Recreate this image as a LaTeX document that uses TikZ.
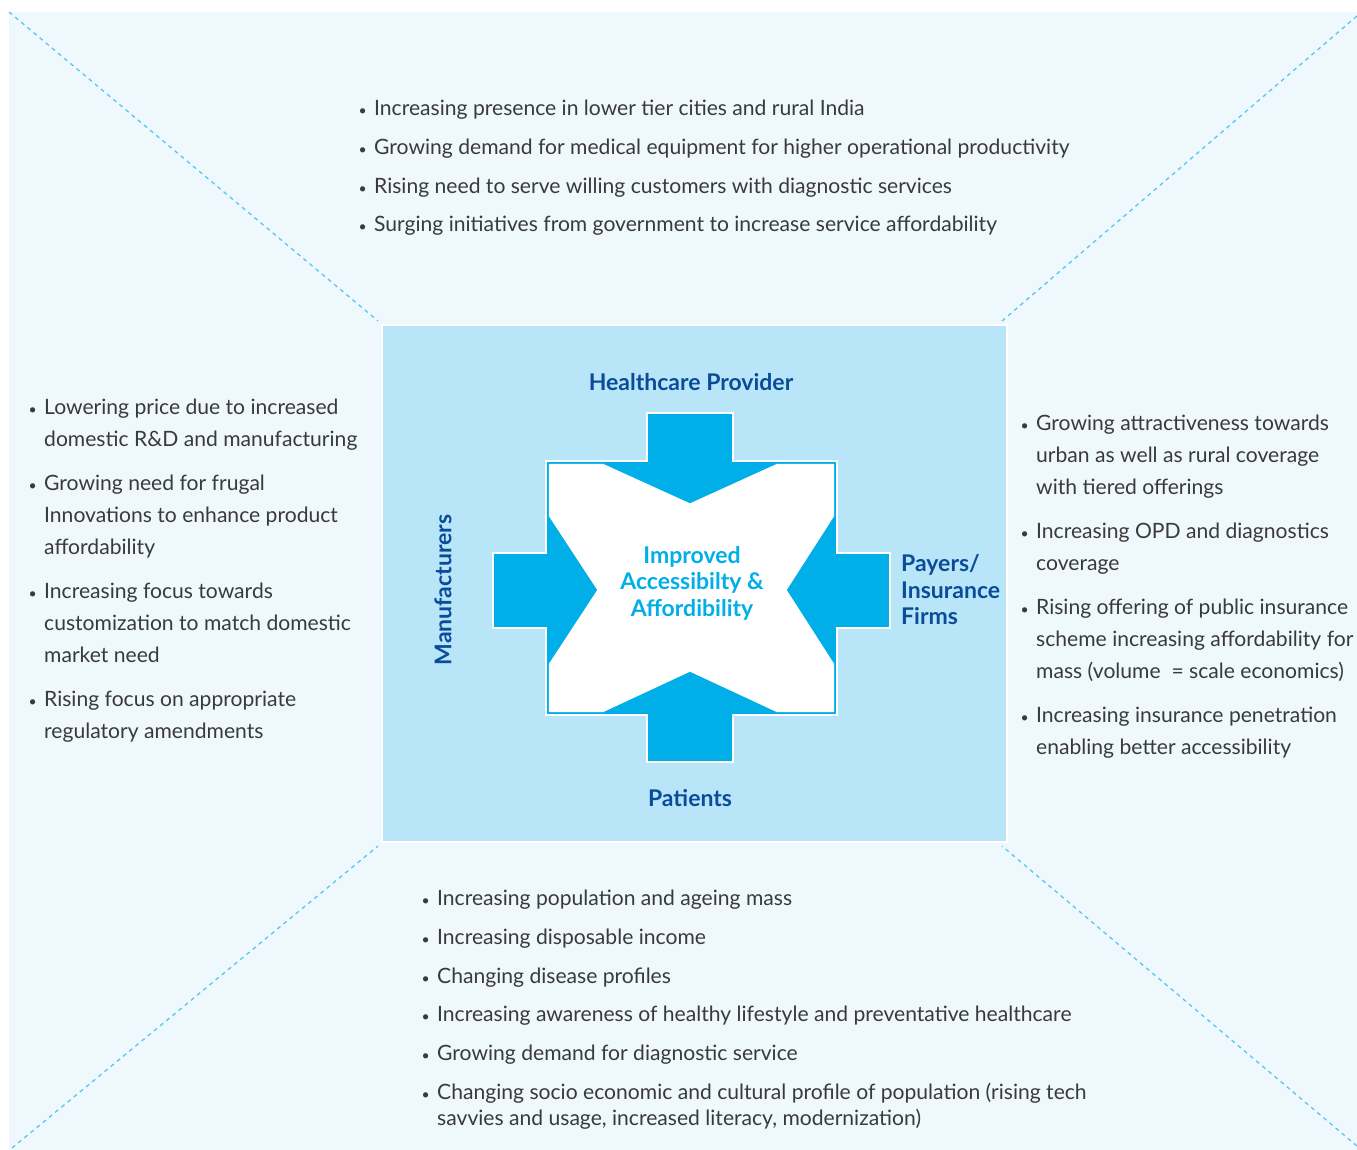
\documentclass[tikz,border=0pt]{standalone}
\usepackage{fontspec}
\setmainfont{Lato}
\begin{document}
\definecolor{panelbg}{HTML}{EEF8FD}
\definecolor{boxbg}{HTML}{B8E5F8}
\definecolor{arrowblue}{HTML}{00AEE8}
\definecolor{dashblue}{HTML}{5CC6EE}
\definecolor{labelblue}{HTML}{0B4C9A}
\definecolor{bodytext}{HTML}{3A3A3A}
\begin{tikzpicture}[x=1pt,y=-1pt,
  txt/.style={anchor=base west,inner sep=0pt,text=bodytext,font=\fontsize{21.1}{24}\selectfont},
  bul/.style={anchor=base east,inner sep=0pt,text=bodytext,font=\fontsize{14}{16}\selectfont},
  lbl/.style={inner sep=0pt,text=labelblue,font=\fontsize{23}{26.5}\selectfont\bfseries},
  hub/.style={inner sep=0pt,text=arrowblue,align=center,font=\fontsize{23}{26.5}\selectfont\bfseries},
  guide/.style={draw=dashblue,line width=1.3pt,dash pattern=on 4pt off 4pt}]
\newcommand\bl[1]{\node[bul] at ([xshift=-7pt]#1.base west) {•};}
\useasboundingbox (0,0) rectangle (1357,1150);
% background panel
\fill[panelbg] (9,12) rectangle (1357,1150);
% diagonal guides from panel corners to the central box
\coordinate (pTL) at (9,12);
\coordinate (pTR) at (1357,16);
\coordinate (pBL) at (12,1148);
\coordinate (pBR) at (1357,1146);
\node[draw=white,line width=2pt,fill=boxbg,minimum width=625pt,minimum height=517pt,inner sep=0pt,anchor=north west] (box) at (381,324) {};
\draw[guide] (pTL) -- ([shift={(-3,-3)}]box.north west);
\draw[guide] (pTR) -- ([shift={(-6,-3)}]box.north east);
\draw[guide] (pBL) -- ([shift={(-3,3)}]box.south west);
\draw[guide] (pBR) -- ([shift={(-6,3)}]box.south east);
% cross of four arrows
\fill[arrowblue,draw=white,line width=1.6pt]
 (647,413) -- (733,413) -- (733,461) -- (837,461) -- (837,553) -- (890,553) -- (890,628)
 -- (837,628) -- (837,715) -- (733,715) -- (733,762) -- (647,762) -- (647,715) -- (546,715)
 -- (546,628) -- (493,628) -- (493,553) -- (546,553) -- (546,461) -- (647,461) -- cycle;
% white star between the arrowheads
\fill[white,draw=white,line width=1.2pt]
 (549.5,464.5) -- (603,464.5) -- (690,504) -- (777,464.5) -- (833.5,464.5) -- (833.5,516)
 -- (786,590) -- (833.5,664) -- (833.5,711.5) -- (777,711.5) -- (690,671) -- (603,711.5)
 -- (549.5,711.5) -- (549.5,664) -- (598,590) -- (549.5,516) -- cycle;
\node[hub] (hubtext) at (692,583) {Improved\\Accessibilty \&\\Affordibility};
% stakeholder labels
\node[lbl] (provider) at (691,382) {Healthcare Provider};
\node[lbl] (patients) at (690,798) {Patients};
\node[lbl,rotate=90] (manuf) at (443,590) {Manufacturers};
\node[lbl,align=left,anchor=west] (payers) at (901,590) {Payers/\\Insurance\\Firms};
% top list
\node[txt] (t1) at (374,116) {Increasing presence in lower tier cities and rural India}; \bl{t1}
\node[txt] (t2) at (374,155) {Growing demand for medical equipment for higher operational productivity}; \bl{t2}
\node[txt] (t3) at (374,193.5) {Rising need to serve willing customers with diagnostic services}; \bl{t3}
\node[txt] (t4) at (374,232) {Surging initiatives from government to increase service affordability}; \bl{t4}
% left list
\node[txt] (l1a) at (44,414) {Lowering price due to increased}; \bl{l1a}
\node[txt] (l1b) at (44,446) {domestic R\&D and manufacturing};
\node[txt] (l2a) at (44,490) {Growing need for frugal}; \bl{l2a}
\node[txt] (l2b) at (44,522) {Innovations to enhance product};
\node[txt] (l2c) at (44,554) {affordability};
\node[txt] (l3a) at (44,598) {Increasing focus towards}; \bl{l3a}
\node[txt] (l3b) at (44,630) {customization to match domestic};
\node[txt] (l3c) at (44,662) {market need};
\node[txt] (l4a) at (44,706) {Rising focus on appropriate}; \bl{l4a}
\node[txt] (l4b) at (44,738) {regulatory amendments};
% right list
\node[txt] (r1a) at (1036,430) {Growing attractiveness towards}; \bl{r1a}
\node[txt] (r1b) at (1036,462) {urban as well as rural coverage};
\node[txt] (r1c) at (1036,494) {with tiered offerings};
\node[txt] (r2a) at (1036,538) {Increasing OPD and diagnostics}; \bl{r2a}
\node[txt] (r2b) at (1036,570) {coverage};
\node[txt] (r3a) at (1036,614) {Rising offering of public insurance}; \bl{r3a}
\node[txt] (r3b) at (1036,646) {scheme increasing affordability for};
\node[txt] (r3c) at (1036,678) {mass (volume \ = scale economics)};
\node[txt] (r4a) at (1036,722) {Increasing insurance penetration}; \bl{r4a}
\node[txt] (r4b) at (1036,754) {enabling better accessibility};
% bottom list
\node[txt] (b1) at (437,905) {Increasing population and ageing mass}; \bl{b1}
\node[txt] (b2) at (437,944) {Increasing disposable income}; \bl{b2}
\node[txt] (b3) at (437,983) {Changing disease profiles}; \bl{b3}
\node[txt] (b4) at (437,1021) {Increasing awareness of healthy lifestyle and preventative healthcare}; \bl{b4}
\node[txt] (b5) at (437,1060) {Growing demand for diagnostic service}; \bl{b5}
\node[txt] (b6a) at (437,1099) {Changing socio economic and cultural profile of population (rising tech}; \bl{b6a}
\node[txt] (b6b) at (437,1125) {savvies and usage, increased literacy, modernization)};
\end{tikzpicture}
\end{document}
